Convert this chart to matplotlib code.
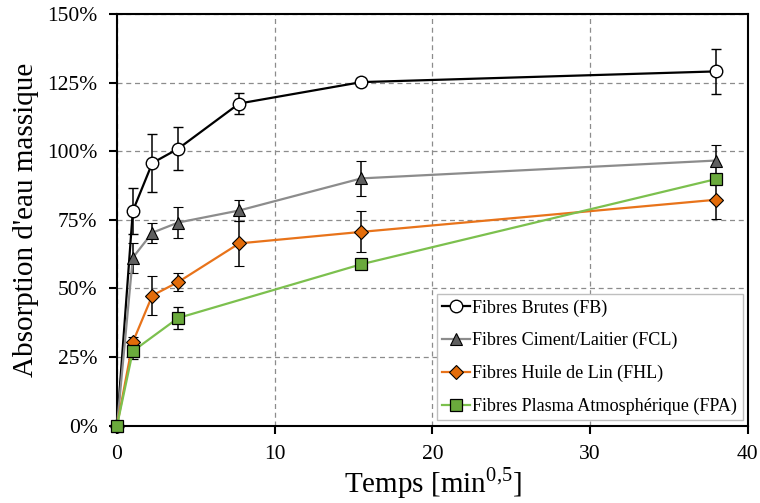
import numpy as np
import matplotlib.pyplot as plt
from matplotlib.ticker import PercentFormatter

plt.rcParams['font.family'] = ['Liberation Serif', 'DejaVu Serif']
plt.rcParams['mathtext.fontset'] = 'custom'
plt.rcParams['mathtext.rm'] = 'Liberation Serif'

# temps en racine de minutes
x_all = [0, 1, 2.236, 3.873, 7.746, 15.49, 37.95]
x_fpa = [0, 1, 3.873, 15.49, 37.95]

fb = [0, 78.2, 95.7, 100.9, 117.4, 125.2, 129.1]
fb_err = [0, 8.4, 10.7, 7.9, 4.0, 1.5, 8.1]

fcl = [0, 61.2, 70.3, 74.0, 78.4, 90.1, 96.6]
fcl_err = [0, 5.5, 3.6, 5.7, 3.9, 6.3, 5.5]

fhl = [0, 30.4, 47.4, 52.3, 66.4, 70.6, 82.3]
fhl_err = [0, 2.0, 7.0, 3.3, 8.2, 7.5, 7.0]

fpa = [0, 27.1, 39.2, 58.8, 89.8]
fpa_err = [0, 3.0, 4.1, 1.5, 1.5]

fig, ax = plt.subplots(figsize=(7.6, 5.03), dpi=100)
fig.subplots_adjust(left=0.154, right=0.984, bottom=0.154, top=0.972)

ax.grid(True, color='#8c8c8c', linestyle=(0, (4, 3)), linewidth=0.9, zorder=0)
ax.set_axisbelow(True)

series = [
    (x_all, fb, fb_err, 'black', 'o', 9, 'white', 1.0, 'Fibres Brutes (FB)'),
    (x_all, fcl, fcl_err, '#8c8c8c', '^', 9, '#5f5f5f', 0.8, 'Fibres Ciment/Laitier (FCL)'),
    (x_all, fhl, fhl_err, '#e8731a', 'D', 7.5, '#e36c0a', 0.8, 'Fibres Huile de Lin (FHL)'),
    (x_fpa, fpa, fpa_err, '#7cc04e', 's', 9, '#6aaa3c', 0.9, 'Fibres Plasma Atmosphérique (FPA)'),
]

handles = []
for xs, ys, err, col, mk, ms, fc, mew, lab in series:
    line, caps, bars = ax.errorbar(xs, ys, yerr=err, color=col, lw=1.6, marker=mk, ms=ms,
                                   mfc=fc, mec='black', mew=mew, ecolor='black',
                                   elinewidth=1.1, capsize=3.5, capthick=1.1,
                                   label=lab, zorder=3)
    line.set_clip_on(False)
    handles.append(line)

ax.set_xlim(0, 40)
ax.set_ylim(0, 150)
ax.set_xticks([0, 10, 20, 30, 40])
ax.set_yticks([0, 25, 50, 75, 100, 125, 150])
ax.yaxis.set_major_formatter(PercentFormatter(decimals=0))
ax.tick_params(axis='both', labelsize=15.5, direction='out', length=6, width=1.5, pad=8)
for s in ax.spines.values():
    s.set_linewidth(1.5)

ax.set_xlabel('Temps [min$^{0{,}5}$]', fontsize=21, labelpad=1)
ax.set_ylabel("Absorption d'eau massique", fontsize=21, labelpad=6)

leg = ax.legend(handles=handles, labels=[s[-1] for s in series], loc='lower right',
                fontsize=13.1, frameon=True, fancybox=False,
                edgecolor='#bfbfbf', framealpha=1, handlelength=1.5,
                handletextpad=0.15, borderpad=0.3, labelspacing=0.85,
                borderaxespad=0.28)
leg.get_frame().set_linewidth(1.0)

plt.savefig('out.png', dpi=100)
